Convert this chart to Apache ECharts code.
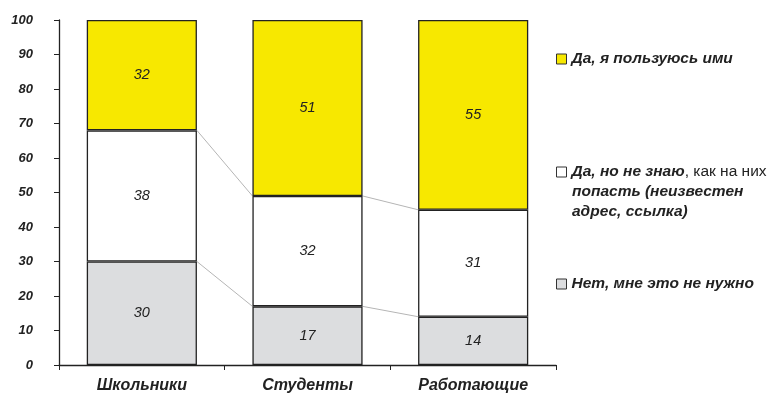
<!DOCTYPE html>
<html><head><meta charset="utf-8">
<script src="https://cdn.jsdelivr.net/npm/echarts@6/dist/echarts.min.js"></script>
<style>html,body{margin:0;padding:0;background:#fff}#c{width:768px;height:394px}</style>
</head><body><div id="c"></div>
<script>
var categories = ['Школьники', 'Студенты', 'Работающие'];
var noNeed = [30, 17, 14];
var dontKnow = [38, 32, 31];
var useThem = [32, 51, 55];
var yTicks = [0, 10, 20, 30, 40, 50, 60, 70, 80, 90, 100];

var FONT = '"Liberation Sans", Arial, sans-serif';
var LF = 15.5;
var BAR_W = 0.665;
var border = {borderColor: '#222', borderWidth: 1.3};
var lbl = {show: true, position: 'inside', color: '#222', fontStyle: 'italic', fontFamily: FONT, fontSize: 14.5};
var legText = {color: '#222', fontWeight: 'bold', fontStyle: 'italic', fontSize: LF, fontFamily: FONT};

var cum1 = noNeed.slice();
var cum2 = noNeed.map(function (v, i) { return v + dontKnow[i]; });
var connData = [];
[cum1, cum2].forEach(function (c) {
  for (var i = 0; i < c.length - 1; i++) connData.push([i, c[i], c[i + 1]]);
});

function leg(name, top, fmt) {
  var o = {data: [{name: name}], left: 556, top: top, orient: 'vertical', icon: 'rect',
    itemWidth: 10, itemHeight: 10, itemGap: 0, padding: 0,
    itemStyle: {borderColor: '#333', borderWidth: 1},
    textStyle: Object.assign({padding: [0, 0, 0, 0]}, legText)};
  if (fmt) {
    o.formatter = fmt;
    o.textStyle = {color: '#222', fontSize: LF, fontFamily: FONT,
      rich: {b: Object.assign({}, legText), n: {fontSize: LF, color: '#222', fontFamily: FONT}}};
  }
  return o;
}

var chart = echarts.init(document.getElementById('c'), null, {renderer: 'canvas'});
chart.setOption({
  animation: false,
  textStyle: {fontFamily: FONT},
  grid: {left: 59, right: 212, top: 20, bottom: 29, containLabel: false},
  xAxis: {
    type: 'category', data: categories,
    axisLine: {lineStyle: {color: '#222', width: 1.3}},
    axisTick: {show: true, length: 5, lineStyle: {color: '#222'}},
    axisLabel: {color: '#222', fontWeight: 'bold', fontStyle: 'italic', fontSize: 16, margin: 13, fontFamily: FONT}
  },
  yAxis: {
    type: 'value', min: 0, max: 100, interval: 10,
    axisLine: {show: true, lineStyle: {color: '#222', width: 1.3}},
    axisTick: {show: true, inside: false, length: 5, lineStyle: {color: '#222'}},
    splitLine: {show: false},
    axisLabel: {color: '#222', fontWeight: 'bold', fontStyle: 'italic', fontSize: 13, margin: 26, fontFamily: FONT,
      formatter: function (v) { return yTicks.indexOf(v) >= 0 ? String(v) : ''; }}
  },
  legend: [
    leg('Да, я пользуюсь ими', 51),
    leg('Да, но не знаю', 164, function () { return '{b|Да, но не знаю}{n|, как на них}'; }),
    leg('Нет, мне это не нужно', 276)
  ],
  graphic: [
    {type: 'text', left: 572, top: 184, style: {text: 'попасть (неизвестен', fill: '#222',
      font: 'italic bold ' + LF + 'px ' + FONT}},
    {type: 'text', left: 572, top: 204, style: {text: 'адрес, ссылка)', fill: '#222',
      font: 'italic bold ' + LF + 'px ' + FONT}}
  ],
  series: [
    {name: 'Нет, мне это не нужно', type: 'bar', stack: 's', data: noNeed, barWidth: (BAR_W * 100) + '%',
      itemStyle: Object.assign({color: '#dcdddf'}, border), label: lbl},
    {name: 'Да, но не знаю', type: 'bar', stack: 's', data: dontKnow,
      itemStyle: Object.assign({color: '#ffffff'}, border), label: lbl},
    {name: 'Да, я пользуюсь ими', type: 'bar', stack: 's', data: useThem,
      itemStyle: Object.assign({color: '#f7e800'}, border), label: lbl},
    {type: 'custom', silent: true, data: connData, z: 1,
      renderItem: function (params, api) {
        var i = api.value(0);
        var p1 = api.coord([i, api.value(1)]);
        var p2 = api.coord([i + 1, api.value(2)]);
        var w = api.size([1, 0])[0] * BAR_W / 2;
        return {type: 'line', shape: {x1: p1[0] + w, y1: p1[1], x2: p2[0] - w, y2: p2[1]},
          style: {stroke: '#b5b5b5', lineWidth: 1}};
      }}
  ]
});
</script></body></html>
